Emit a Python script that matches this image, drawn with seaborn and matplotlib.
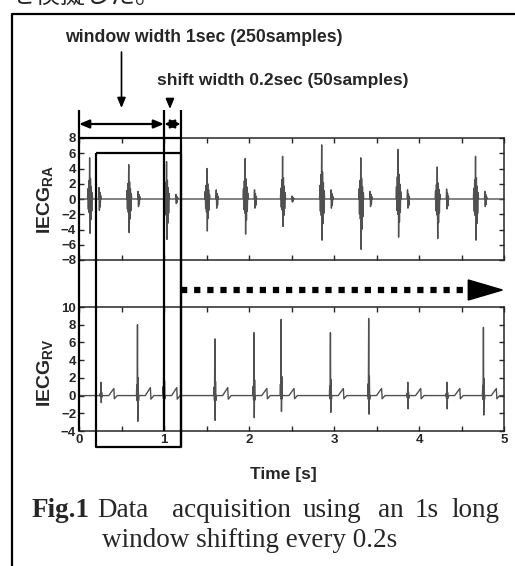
import numpy as np
import pandas as pd
import matplotlib
matplotlib.use('Agg')
import matplotlib.pyplot as plt
import seaborn as sns
from matplotlib.lines import Line2D
from matplotlib.patches import FancyArrowPatch, Polygon
from matplotlib.transforms import blended_transform_factory

# beat data (time [s], peak, trough)
ra_t = [0.13, 0.59, 1.035, 1.51, 1.96, 2.40, 2.86, 3.32, 3.76, 4.22, 4.67]
ra_pk = [5.4, 4.5, 4.9, 4.0, 5.3, 5.6, 7.1, 5.4, 6.5, 4.2, 5.6]
ra_tr = [-4.5, -4.4, -5.3, -4.2, -4.6, -3.6, -5.4, -6.6, -5.0, -5.2, -5.4]
ra_sec = [1.5, 1.0, 0.6, 1.2, 1.2, 0.4, 1.2, 1.0, 1.2, 1.3, 1.0]  # small second burst

rv_t = [0.26, 0.69, 1.0, 1.6, 2.06, 2.38, 2.96, 3.41, 3.87, 4.33, 4.76]
rv_pk = [1.5, 8.0, 6.7, 6.4, 7.1, 8.6, 7.1, 8.7, 1.5, 1.5, 7.7]
rv_tr = [-0.8, -2.9, -1.8, -2.8, -2.5, -1.8, -1.9, -2.1, -1.5, -1.5, -2.2]
rv_ramp = [0.8, 0.9, 0.9, 0.9, 0.8, 0.8, 0.8, 0.8, 0.8, 0.8, 0.8]

t_end = 5.0
win_len = 1.0     # window width 1 s
shift = 0.2       # shift width 0.2 s

x_ticks = [0, 0.5, 1, 1.5, 2, 2.5, 3, 3.5, 4, 4.5, 5]
x_labels = ['0', '', '1', '', '2', '', '3', '', '4', '', '5']
ra_yticks = [-8, -6, -4, -2, 0, 2, 4, 6, 8]
rv_yticks = [-4, -2, 0, 2, 4, 6, 8, 10]


def build_ra():
    tt, vv = [0.0], [0.0]
    burst = [0, 0.25, -0.3, 0.45, -0.4, 1.0, -1.0, 0.5, -0.6, 0.3, -0.35, 0.15, 0]
    small = [0, 1, -1, 0.6, -0.7, 0.3, 0]
    for t, p, m, s in zip(ra_t, ra_pk, ra_tr, ra_sec):
        for i, f in enumerate(burst):
            tt.append(t - 0.03 + i * 0.005)
            vv.append(f * p if f > 0 else f * abs(m))
        for i, f in enumerate(small):
            tt.append(t + 0.1 + i * 0.005)
            vv.append(f * s)
    tt.append(t_end)
    vv.append(0.0)
    return pd.DataFrame({'t': tt, 'v': vv})


def build_rv():
    tt, vv = [0.0], [0.0]
    burst = [0, 0.15, -0.2, 1.0, -1.0, 0.25, -0.2, 0]
    for t, p, m, r in zip(rv_t, rv_pk, rv_tr, rv_ramp):
        for i, f in enumerate(burst):
            tt.append(t - 0.014 + i * 0.004)
            vv.append(f * p if f > 0 else f * abs(m))
        tt += [t + 0.09, t + 0.15, t + 0.156, t + 0.19]
        vv += [0.0, r, -0.45 * r, 0.0]
    tt.append(t_end)
    vv.append(0.0)
    return pd.DataFrame({'t': tt, 'v': vv})


sns.set_style('ticks')
plt.rcParams['font.family'] = ['Liberation Sans', 'DejaVu Sans']
plt.rcParams['font.weight'] = 'bold'
plt.rcParams['mathtext.fontset'] = 'custom'
plt.rcParams['mathtext.rm'] = 'Liberation Sans:bold'
plt.rcParams['mathtext.bf'] = 'Liberation Sans:bold'

W, H = 515, 566
fig = plt.figure(figsize=(W / 100, H / 100), dpi=100)


def fx(px):
    return px / W


def fy(py):
    return 1 - py / H


ax1 = fig.add_axes([fx(79), fy(260), fx(504) - fx(79), fy(138) - fy(260)])
ax2 = fig.add_axes([fx(79), fy(431), fx(504) - fx(79), fy(307) - fy(431)])

sns.lineplot(data=build_ra(), x='t', y='v', ax=ax1, color='#505050', lw=1.0,
             estimator=None, sort=False)
sns.lineplot(data=build_rv(), x='t', y='v', ax=ax2, color='#505050', lw=1.0,
             estimator=None, sort=False)

for ax, yt in ((ax1, ra_yticks), (ax2, rv_yticks)):
    ax.set_xlim(0, t_end)
    ax.set_ylim(yt[0], yt[-1])
    ax.set_yticks(yt)
    ax.set_xticks(x_ticks)
    ax.set_xticklabels(x_labels)
    ax.set_xlabel('')
    ax.set_ylabel('')
    ax.tick_params(direction='in', top=True, right=True, length=3.5, width=1,
                   labelsize=9.5, pad=2)
    for sp in ax.spines.values():
        sp.set_linewidth(1.1)
ax1.tick_params(labelbottom=False)

fig.text(fx(46), fy(199), r'IECG$_{\mathbf{RA}}$', rotation=90, ha='center',
         va='center', fontsize=14, fontweight='bold')
fig.text(fx(46), fy(373), r'IECG$_{\mathbf{RV}}$', rotation=90, ha='center',
         va='center', fontsize=14, fontweight='bold')
fig.text(fx(283), fy(474), 'Time [s]', ha='center', va='center',
         fontsize=12.5, fontweight='bold')

# window rectangles and arrows (x in seconds, y in figure fraction)
tr = blended_transform_factory(ax1.transData, fig.transFigure)
k = dict(color='black', lw=1.6, transform=tr, solid_capstyle='butt')
w0, w1 = 0.0, win_len
s0, s1 = shift, shift + win_len
fig.add_artist(Line2D([w0, w0], [fy(110), fy(431)], **k))
fig.add_artist(Line2D([w1, w1], [fy(110), fy(431)], **k))
fig.add_artist(Line2D([w0, s1], [fy(138), fy(138)], **k))
fig.add_artist(Line2D([s1, s1], [fy(110), fy(447)], **k))
fig.add_artist(Line2D([s0, s1, s1, s0, s0], [fy(153), fy(153), fy(447), fy(447), fy(153)], **k))

arr = dict(transform=tr, arrowstyle='<|-|>,head_length=0.6,head_width=0.25',
           mutation_scale=10, lw=1.6, color='black', shrinkA=0, shrinkB=0)
fig.add_artist(FancyArrowPatch((w0, fy(124)), (w1, fy(124)), **arr))
fig.add_artist(FancyArrowPatch((w1, fy(124)), (s1, fy(124)), **arr))
down = dict(transform=tr, arrowstyle='-|>,head_length=0.6,head_width=0.25',
            mutation_scale=10, lw=1.2, color='black', shrinkA=0, shrinkB=0)
fig.add_artist(FancyArrowPatch((win_len / 2, fy(52)), (win_len / 2, fy(108)), **down))
fig.add_artist(FancyArrowPatch((win_len + shift / 2 - 0.03, fy(100)),
                               (win_len + shift / 2 - 0.03, fy(109)), **down))

fig.text(fx(65), fy(38), 'window width 1sec (250samples)', ha='left',
         va='center', fontsize=12.7, fontweight='bold')
fig.text(fx(157), fy(80), 'shift width 0.2sec (50samples)', ha='left',
         va='center', fontsize=12.5, fontweight='bold')

# dotted shift arrow
fig.add_artist(Line2D([s1, 4.56], [fy(290), fy(290)], color='black', lw=4.5,
                      linestyle=(0, (1, 1.1)), dash_capstyle='butt', transform=tr))
fig.add_artist(Polygon([[4.58, fy(280)], [4.98, fy(290)], [4.58, fy(300)]],
                       closed=True, color='black', transform=tr))

# outer frame
fig.add_artist(Line2D([fx(12), fx(12), 1.0], [0.0, fy(14), fy(14)], color='black',
                      lw=1.6, transform=fig.transFigure))

# cut-off Japanese line above the frame
fig.text(fx(11), fy(2.5), 'を模擬した。', ha='left', va='baseline', fontsize=18,
         family=['Noto Sans CJK JP', 'DejaVu Sans'], fontweight='normal')

# caption
cap = dict(fontsize=19.5, va='baseline', ha='left', family=['Liberation Serif', 'DejaVu Serif'],
           fontweight='normal')
fig.text(fx(32), fy(517), 'Fig.1', **dict(cap, fontweight='bold'))
for x, word in zip([97, 172, 303, 378, 415, 452],
                   ['Data', 'acquisition', 'using', 'an', '1s', 'long']):
    fig.text(fx(x), fy(517), word, **cap)
fig.text(fx(102), fy(547), 'window shifting every 0.2s', **cap)

fig.savefig('out.png', dpi=100)
